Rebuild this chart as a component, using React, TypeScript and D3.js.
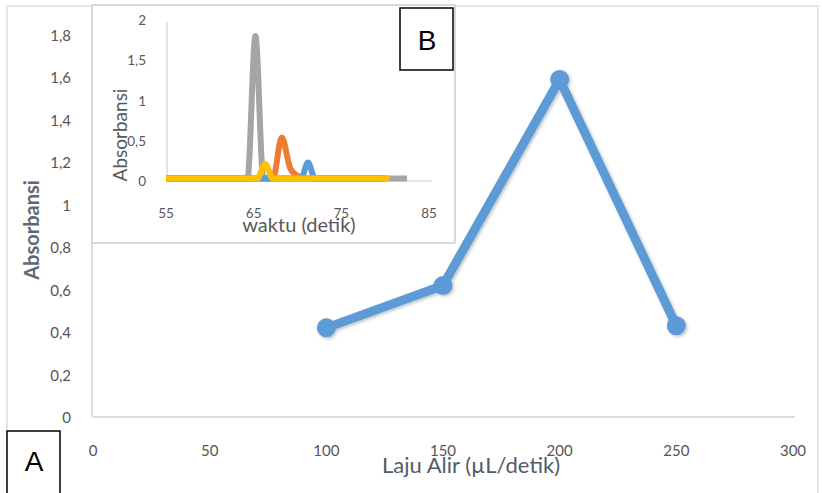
import React, { useRef, useEffect } from 'react'
import * as d3 from 'd3'

// main chart: flow rate vs absorbance
const flowRates = [100, 150, 200, 250]
const absorbance = [0.42, 0.62, 1.59, 0.43]
const xTicks = [0, 50, 100, 150, 200, 250, 300]
const yTicks = [0, 0.2, 0.4, 0.6, 0.8, 1, 1.2, 1.4, 1.6, 1.8]

// inset chart: absorbance vs time, one peak per flow rate
const insetGray = [[55, 0.03], [63.5, 0.03], [64.3, 0.04], [65.2, 1.8], [66.1, 0.04], [67, 0.03], [82.5, 0.03]]
const insetOrange = [[55, 0.03], [67.2, 0.03], [68.2, 0.54], [69.2, 0.15], [70.2, 0.05], [71, 0.03], [80, 0.03]]
const insetBlue = [[55, 0.03], [70.4, 0.03], [71.2, 0.23], [72, 0.03], [80, 0.03]]
const insetYellow = [[55, 0.03], [65.4, 0.03], [66.3, 0.21], [67.2, 0.03], [80.5, 0.03]]
const insetXTicks = [55, 65, 75, 85]
const insetYTicks = [0, 0.5, 1, 1.5, 2]

const fmt = (d: number) => String(d).replace('.', ',')
const font = "Lato, 'Open Sans', sans-serif"
const grey = '#595959'

export default function App() {
  const ref = useRef<SVGSVGElement>(null)

  useEffect(() => {
    const svg = d3.select(ref.current)
    svg.selectAll('*').remove()

    // outer frame
    svg.append('rect')
      .attr('x', 7).attr('y', 6).attr('width', 811).attr('height', 500)
      .attr('fill', '#fff').attr('stroke', '#e6e6e6').attr('stroke-width', 2)

    const x = d3.scaleLinear().domain([0, 300]).range([93, 793])
    const y = d3.scaleLinear().domain([0, 1.8]).range([417, 35])

    // axes lines
    svg.append('line')
      .attr('x1', x(0)).attr('x2', x(300) + 2).attr('y1', y(0)).attr('y2', y(0))
      .attr('stroke', '#d0d3d8').attr('stroke-width', 1.5)
    svg.append('line')
      .attr('x1', x(0) - 1).attr('x2', x(0) - 1).attr('y1', 240).attr('y2', y(0))
      .attr('stroke', '#d0d3d8').attr('stroke-width', 1.5)

    svg.append('g').selectAll('text')
      .data(xTicks).enter().append('text')
      .attr('x', d => x(d)).attr('y', 450)
      .attr('text-anchor', 'middle').attr('dominant-baseline', 'central')
      .attr('font-family', font).attr('font-size', 15).attr('fill', '#555')
      .text(d => fmt(d))

    svg.append('g').selectAll('text')
      .data(yTicks).enter().append('text')
      .attr('x', 71).attr('y', d => y(d))
      .attr('text-anchor', 'end').attr('dominant-baseline', 'central')
      .attr('font-family', font).attr('font-size', 15).attr('fill', '#555')
      .text(d => fmt(d))

    svg.append('text')
      .attr('x', 471).attr('y', 464)
      .attr('text-anchor', 'middle').attr('dominant-baseline', 'central')
      .attr('font-family', font).attr('font-size', 22).attr('fill', '#535b68')
      .text('Laju Alir (µL/detik)')

    svg.append('text')
      .attr('transform', 'translate(31,230) rotate(-90)')
      .attr('text-anchor', 'middle').attr('dominant-baseline', 'central')
      .attr('font-family', font).attr('font-size', 20).attr('font-weight', 700).attr('fill', '#5d6878')
      .text('Absorbansi')

    // shadow for the main series
    const defs = svg.append('defs')
    const f = defs.append('filter').attr('id', 'shadow')
      .attr('x', '-10%').attr('y', '-10%').attr('width', '130%').attr('height', '130%')
    f.append('feDropShadow')
      .attr('dx', 1.5).attr('dy', 1.5).attr('stdDeviation', 1.5)
      .attr('flood-color', '#000').attr('flood-opacity', 0.25)

    const pts = flowRates.map((d, i) => [d, absorbance[i]])
    const main = svg.append('g').attr('filter', 'url(#shadow)')
    main.append('path')
      .datum(pts)
      .attr('fill', 'none')
      .attr('stroke', '#5b9bd5')
      .attr('stroke-width', 9)
      .attr('stroke-linejoin', 'round')
      .attr('d', d3.line().x(d => x(d[0])).y(d => y(d[1])))
    main.selectAll('circle')
      .data(pts).enter().append('circle')
      .attr('cx', d => x(d[0])).attr('cy', d => y(d[1]))
      .attr('r', 9.5).attr('fill', '#5b9bd5')

    // inset B
    svg.append('rect')
      .attr('x', 92).attr('y', 5).attr('width', 363).attr('height', 238)
      .attr('fill', '#fff').attr('stroke', '#d9d9d9').attr('stroke-width', 2)

    const ix = d3.scaleLinear().domain([55, 85]).range([166, 429])
    const iy = d3.scaleLinear().domain([0, 2]).range([181, 20])

    svg.append('line')
      .attr('x1', ix(55)).attr('x2', 432).attr('y1', iy(0)).attr('y2', iy(0))
      .attr('stroke', '#d0d0d0').attr('stroke-width', 1.2)
    svg.append('line')
      .attr('x1', ix(55) + 1).attr('x2', ix(55) + 1).attr('y1', 22).attr('y2', iy(0))
      .attr('stroke', '#d0d0d0').attr('stroke-width', 1.2)

    svg.append('g').selectAll('text')
      .data(insetXTicks).enter().append('text')
      .attr('x', d => ix(d)).attr('y', 213)
      .attr('text-anchor', 'middle').attr('dominant-baseline', 'central')
      .attr('font-family', font).attr('font-size', 13.5).attr('fill', grey)
      .text(d => fmt(d))

    svg.append('g').selectAll('text')
      .data(insetYTicks).enter().append('text')
      .attr('x', 146).attr('y', d => iy(d))
      .attr('text-anchor', 'end').attr('dominant-baseline', 'central')
      .attr('font-family', font).attr('font-size', 13.5).attr('fill', grey)
      .text(d => fmt(d))

    svg.append('text')
      .attr('x', 299).attr('y', 224)
      .attr('text-anchor', 'middle').attr('dominant-baseline', 'central')
      .attr('font-family', font).attr('font-size', 20).attr('fill', grey)
      .text('waktu (detik)')

    svg.append('text')
      .attr('transform', 'translate(119,135) rotate(-90)')
      .attr('text-anchor', 'middle').attr('dominant-baseline', 'central')
      .attr('font-family', font).attr('font-size', 19).attr('fill', grey)
      .text('Absorbansi')

    const iline = d3.line().x(d => ix(d[0])).y(d => iy(d[1])).curve(d3.curveMonotoneX)
    const series = [
      { data: insetGray, color: '#a5a5a5' },
      { data: insetOrange, color: '#ed7d31' },
      { data: insetBlue, color: '#5b9bd5' },
      { data: insetYellow, color: '#ffc000' },
    ]
    svg.append('g').selectAll('path')
      .data(series).enter().append('path')
      .attr('fill', 'none')
      .attr('stroke', d => d.color)
      .attr('stroke-width', 6)
      .attr('stroke-linejoin', 'round')
      .attr('d', d => iline(d.data))

    // label boxes
    svg.append('rect')
      .attr('x', 400).attr('y', 8).attr('width', 53).attr('height', 62)
      .attr('fill', '#fff').attr('stroke', '#000').attr('stroke-width', 1.5)
    svg.append('text')
      .attr('x', 427).attr('y', 40)
      .attr('text-anchor', 'middle').attr('dominant-baseline', 'central')
      .attr('font-family', "'Liberation Sans', Arial, sans-serif").attr('font-size', 28)
      .text('B')

    svg.append('rect')
      .attr('x', 7).attr('y', 431).attr('width', 53).attr('height', 70)
      .attr('fill', '#fff').attr('stroke', '#000').attr('stroke-width', 1.5)
    svg.append('text')
      .attr('x', 34).attr('y', 461)
      .attr('text-anchor', 'middle').attr('dominant-baseline', 'central')
      .attr('font-family', "'Liberation Sans', Arial, sans-serif").attr('font-size', 28)
      .text('A')
  }, [])

  return (
    <svg
      ref={ref}
      width={822}
      height={493}
      style={{ position: 'fixed', top: 0, left: 0, background: '#fff' }}
    />
  )
}
